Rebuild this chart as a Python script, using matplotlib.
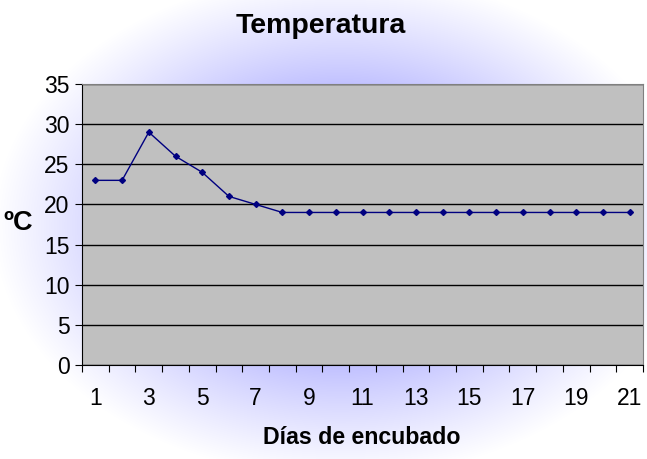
import matplotlib.pyplot as plt
import numpy as np

# Temperatura por día de encubado
DAYS = list(range(1, 22))
TEMPS = [23, 23, 29, 26, 24, 21, 20, 19, 19, 19, 19, 19, 19, 19, 19, 19, 19, 19, 19, 19, 19]
Y_TICKS = [0, 5, 10, 15, 20, 25, 30, 35]

W, H = 647, 459
plt.rcParams["font.family"] = ["Liberation Sans", "DejaVu Sans"]


def main() -> None:
    fig = plt.figure(figsize=(W / 100, H / 100), dpi=100)

    # pale bluish glow behind the plot area
    bg = fig.add_axes([0, 0, 1, 1], zorder=0)
    yy, xx = np.mgrid[0:H, 0:W]
    t = np.sqrt(((xx - 340) / 330) ** 2 + ((yy - 225) / 240) ** 2)
    t = np.clip((t - 0.5) / 0.55, 0, 1) ** 0.8
    c0 = np.array([175, 175, 255]) / 255
    img = c0[None, None, :] * (1 - t[..., None]) + t[..., None]
    bg.imshow(img, aspect="auto", extent=[0, W, H, 0])
    bg.axis("off")

    l, r, top, b = 82, 643, 84, 365
    ax = fig.add_axes([l / W, (H - b) / H, (r - l) / W, (b - top) / H], zorder=1)
    ax.set_facecolor("#C0C0C0")

    x = np.arange(len(DAYS))
    ax.plot(x, TEMPS, color="#000080", lw=1, marker="D", ms=3, zorder=3)

    ax.set_xlim(-0.5, len(DAYS) - 0.5)
    ax.set_ylim(0, 35)
    ax.set_yticks(Y_TICKS)
    ax.yaxis.grid(True, color="black", lw=1)
    ax.set_axisbelow(True)
    ax.tick_params(axis="y", direction="out", length=5, labelsize=16.5, pad=4)

    # ticks between categories, labels on odd days
    ax.set_xticks(np.arange(-0.5, len(DAYS)))
    ax.set_xticklabels([])
    ax.tick_params(axis="x", which="major", direction="out", length=5)
    ax.set_xticks(x[::2], minor=True)
    ax.set_xticklabels([str(d) for d in DAYS[::2]], minor=True)
    ax.tick_params(axis="x", which="minor", length=0, labelsize=16.5, pad=16)

    for s in ["top", "right"]:
        ax.spines[s].set_color("#808080")
    for s in ["left", "bottom"]:
        ax.spines[s].set_color("black")

    fig.text(321 / W, 1 - 26 / H, "Temperatura", ha="center", va="center",
             fontsize=20.5, fontweight="bold")
    fig.text(18 / W, 1 - 223 / H, "ºC", ha="center", va="center",
             fontsize=19.5, fontweight="bold")
    fig.text(362 / W, 1 - 437 / H, "Días de encubado", ha="center", va="center",
             fontsize=16.7, fontweight="bold")

    fig.savefig("out.png", dpi=100)
    plt.close(fig)


if __name__ == "__main__":
    main()
